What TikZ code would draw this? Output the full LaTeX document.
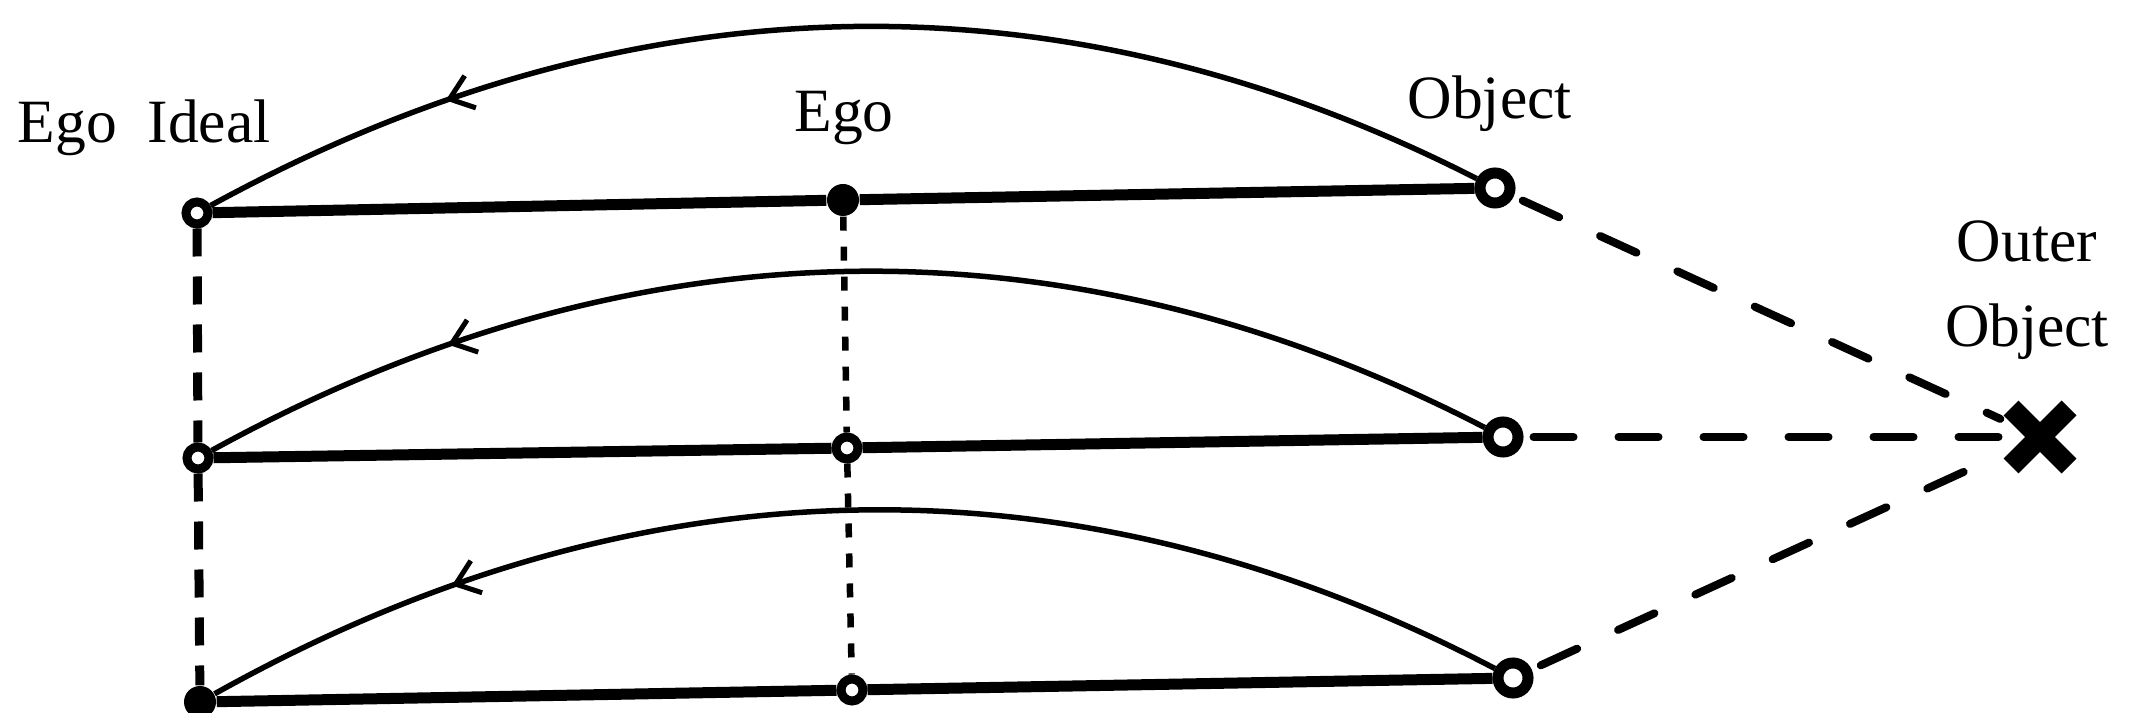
\documentclass[tikz,border=0pt]{standalone}
\usepackage{fontspec}
\setmainfont{Liberation Serif}
\usetikzlibrary{arrows.meta,decorations.markings,calc}
\newlength\pxu
\setlength\pxu{0.01cm}
\begin{document}
\begin{tikzpicture}[x=0.01cm,y=-0.01cm,
  lbl/.style={font=\fontsize{17.5}{21}\selectfont, inner sep=0},
  ring/.style={circle, draw, fill=white, line width=11\pxu, minimum size=30\pxu, inner sep=0},
  smallring/.style={circle, draw, fill=white, line width=9\pxu, minimum size=22\pxu, inner sep=0},
  blackdot/.style={circle, fill=black, minimum size=32\pxu, inner sep=0},
  mainline/.style={line width=11\pxu},
  loopline/.style={line width=5.5\pxu, postaction={decorate},
    decoration={markings, mark=at position 0.805 with {\arrow{Straight Barb[length=0.22cm,width=0.34cm,line width=0.05cm]}}}},
  toouter/.style={line width=8\pxu, line cap=round, dash pattern=on 40\pxu off 45\pxu},
  leftdash/.style={line width=9\pxu, dash pattern=on 28\pxu off 20\pxu},
  egodots/.style={line width=6.5\pxu, dash pattern=on 14\pxu off 16\pxu}
]
\useasboundingbox (0,0) rectangle (2134,713);

% nodes
\node[smallring] (ei1) at (197,213) {};
\node[smallring] (ei2) at (198,458) {};
\node[blackdot]  (ei3) at (200,702) {};
\node[blackdot]  (e1) at (843,200) {};
\node[smallring] (e2) at (847,448) {};
\node[smallring] (e3) at (852,690) {};
\node[ring] (o1) at (1495,188) {};
\node[ring] (o2) at (1503,437) {};
\node[ring] (o3) at (1513,678) {};
\node[minimum size=78\pxu, inner sep=0] (x) at (2040,437) {};
\draw[line width=21\pxu] ($(x.center)+(-29,-29)$) -- ($(x.center)+(29,29)$);
\draw[line width=21\pxu] ($(x.center)+(-29,29)$) -- ($(x.center)+(29,-29)$);

% labels
\node[lbl, anchor=base west] (lei) at (17,143) {Ego\ \ Ideal};
\node[lbl, anchor=base] (le) at (844,132) {Ego};
\node[lbl, anchor=base west] (lo) at (1407,119) {Object};
\node[lbl, anchor=center, align=center, font=\fontsize{17.5}{24}\selectfont] (lx) at (2027,290) {Outer\\Object};

% vertical lines
\draw[leftdash] (ei1) -- (ei2);
\draw[leftdash] (ei2) -- (ei3);
\draw[egodots] (e1) -- (e2);
\draw[egodots] (e2) -- (e3);

% horizontal lines
\draw[mainline] (ei1) -- (e1) -- (o1);
\draw[mainline] (ei2) -- (e2) -- (o2);
\draw[mainline] (ei3) -- (e3) -- (o3);

% arcs
\draw[loopline] (o1) .. controls (1062,-33) and (630,-24) .. (ei1);
\draw[loopline] (o2) .. controls (1068,212) and (633,219) .. (ei2);
\draw[loopline] (o3) .. controls (1075,449) and (638,457) .. (ei3);

% dashed lines to outer object
\draw[toouter, shorten <=10\pxu] (o1) -- (x);
\draw[toouter, shorten <=10\pxu] (o2) -- (x);
\draw[toouter, shorten <=10\pxu] (o3) -- (x);
\end{tikzpicture}
\end{document}
